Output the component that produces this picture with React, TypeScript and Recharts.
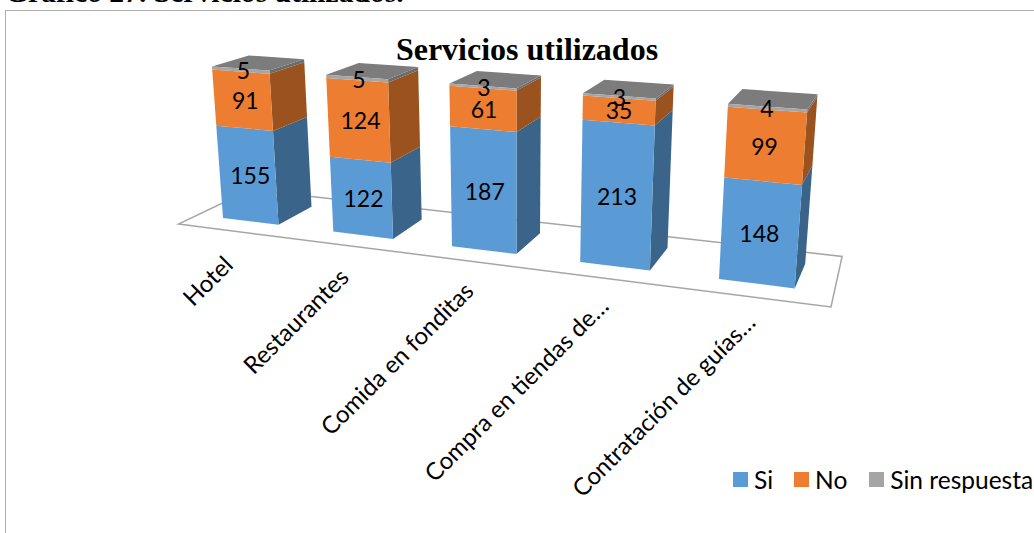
import { BarChart, Bar, XAxis, YAxis, Legend, LabelList } from 'recharts';

const categories = [
  'Hotel',
  'Restaurantes',
  'Comida en fonditas',
  'Compra en tiendas de…',
  'Contratación de guías…',
];
const si = [155, 122, 187, 213, 148];
const no = [91, 124, 61, 35, 99];
const sinRespuesta = [5, 5, 3, 3, 4];
const legendLabels = ['Si', 'No', 'Sin respuesta'];

const data = categories.map((name, i) => ({
  name,
  si: si[i],
  no: no[i],
  sinRespuesta: sinRespuesta[i],
}));

const PLOT_H = 400;
const LABEL_FONT = 'Lato, sans-serif';

// plot coords -> normalised box coords (s along categories, v up, d into the page)
const toS = (px: number) => (px - 39) / 640;
const toV = (py: number) => (PLOT_H - py) / PLOT_H;

// perspective projection of the box onto the page
function project(s: number, v: number, d: number) {
  const w = 1 - 0.1424 * s - 0.0362 * v + 0.0478 * d;
  return [
    (223 + 393.6 * s - 18.68 * v + 47.3 * d) / w,
    (218 + 21.3 * s - 154 * v - 7.84 * d) / w,
  ];
}

const poly = (pts: number[][]) =>
  pts.map((p) => `${p[0].toFixed(1)},${p[1].toFixed(1)}`).join(' ');

function makeShape(front: string, side: string, top?: string) {
  return function Shape(props: any) {
    const { x, y, width, height } = props;
    const s1 = toS(x);
    const s2 = toS(x + width);
    const v1 = toV(y + height);
    const v2 = toV(y);
    return (
      <g>
        <polygon
          fill={side}
          points={poly([project(s2, v1, 0), project(s2, v2, 0), project(s2, v2, 1), project(s2, v1, 1)])}
        />
        {top && (
          <polygon
            fill={top}
            points={poly([project(s1, v2, 0), project(s2, v2, 0), project(s2, v2, 1), project(s1, v2, 1)])}
          />
        )}
        <polygon
          fill={front}
          points={poly([project(s1, v1, 0), project(s2, v1, 0), project(s2, v2, 0), project(s1, v2, 0)])}
        />
      </g>
    );
  };
}

function BarLabel(props: any) {
  const { x, y, width, height, value } = props;
  const s = toS(x + width / 2);
  const [px, py] = project(s, toV(y + height / 2), 0);
  return (
    <text x={px + 3 * (1 - s)} y={py + 9} textAnchor="middle" fontFamily={LABEL_FONT} fontSize={23} fill="#000">
      {value}
    </text>
  );
}

function CategoryTick(props: any) {
  const { x, payload } = props;
  const s = toS(x);
  const [px, py] = project(s, 0, -0.5);
  const tx = px + 2 + 5 * s;
  const ty = py + 36 - 8 * s;
  return (
    <text
      x={tx}
      y={ty}
      textAnchor="end"
      transform={`rotate(-45 ${tx} ${ty})`}
      fontFamily={LABEL_FONT}
      fontSize={24}
      fill="#000"
    >
      {payload.value}
    </text>
  );
}

function LegendBox(props: any) {
  const gaps = [21, 22, 0];
  return (
    <div style={{ display: 'flex', alignItems: 'center', height: 26, fontFamily: LABEL_FONT, fontSize: 24.5, color: '#000', whiteSpace: 'nowrap' }}>
      {props.payload.map((item: any, i: number) => (
        <span key={item.value} style={{ display: 'flex', alignItems: 'center', marginRight: gaps[i] }}>
          <span style={{ width: 15, height: 15, background: item.color, marginRight: 6 }} />
          {item.value}
        </span>
      ))}
    </div>
  );
}

const floor = poly([
  project(-0.06, 0, -0.5),
  project(1.195, 0, -0.5),
  project(1.185, 0, 1.5),
  project(-0.06, 0, 1.5),
]);

export default function App() {
  return (
    <div style={{ position: 'absolute', left: 0, top: 0, width: 1034, height: 533, overflow: 'hidden', background: '#fff' }}>
      <div
        style={{
          position: 'absolute',
          left: 0,
          top: -24,
          paddingLeft: 5,
          fontFamily: '"Liberation Serif", serif',
          fontWeight: 'bold',
          fontSize: 29.6,
          whiteSpace: 'nowrap',
        }}
      >
        Gráfico 27. Servicios utilizados.
      </div>
      <div style={{ position: 'absolute', left: 5, top: 10, width: 1100, height: 600, border: '1px solid #adadad' }} />
      <div style={{ position: 'absolute', left: 0, top: 0 }}>
        <BarChart
          width={1034}
          height={533}
          data={data}
          margin={{ top: 0, right: 234, bottom: 0, left: 0 }}
          barCategoryGap="24.4%"
        >
          <XAxis
            dataKey="name"
            height={107}
            interval={0}
            axisLine={false}
            tickLine={false}
            tick={<CategoryTick />}
          />
          <YAxis hide domain={[0, 251]} />
          <polygon points={floor} fill="#fff" stroke="#a6a6a6" strokeWidth={1.5} />
          <Bar dataKey="si" name={legendLabels[0]} stackId="a" fill="#5B9BD5" isAnimationActive={false} shape={makeShape('#5B9BD5', '#3A6489')}>
            <LabelList dataKey="si" content={<BarLabel />} />
          </Bar>
          <Bar dataKey="no" name={legendLabels[1]} stackId="a" fill="#ED7D31" isAnimationActive={false} shape={makeShape('#ED7D31', '#9A521F')}>
            <LabelList dataKey="no" content={<BarLabel />} />
          </Bar>
          <Bar dataKey="sinRespuesta" name={legendLabels[2]} stackId="a" fill="#A5A5A5" isAnimationActive={false} shape={makeShape('#A5A5A5', '#6B6B6B', '#7C7C7C')}>
            <LabelList dataKey="sinRespuesta" content={<BarLabel />} />
          </Bar>
          <Legend
            content={<LegendBox />}
            itemSorter={null}
            wrapperStyle={{ left: 733, top: 466, width: 301, height: 26, bottom: 'auto' }}
          />
          <text
            x={527}
            y={60}
            textAnchor="middle"
            fontFamily='"Liberation Serif", serif'
            fontWeight="bold"
            fontSize={32}
            fill="#000"
          >
            Servicios utilizados
          </text>
        </BarChart>
      </div>
    </div>
  );
}
